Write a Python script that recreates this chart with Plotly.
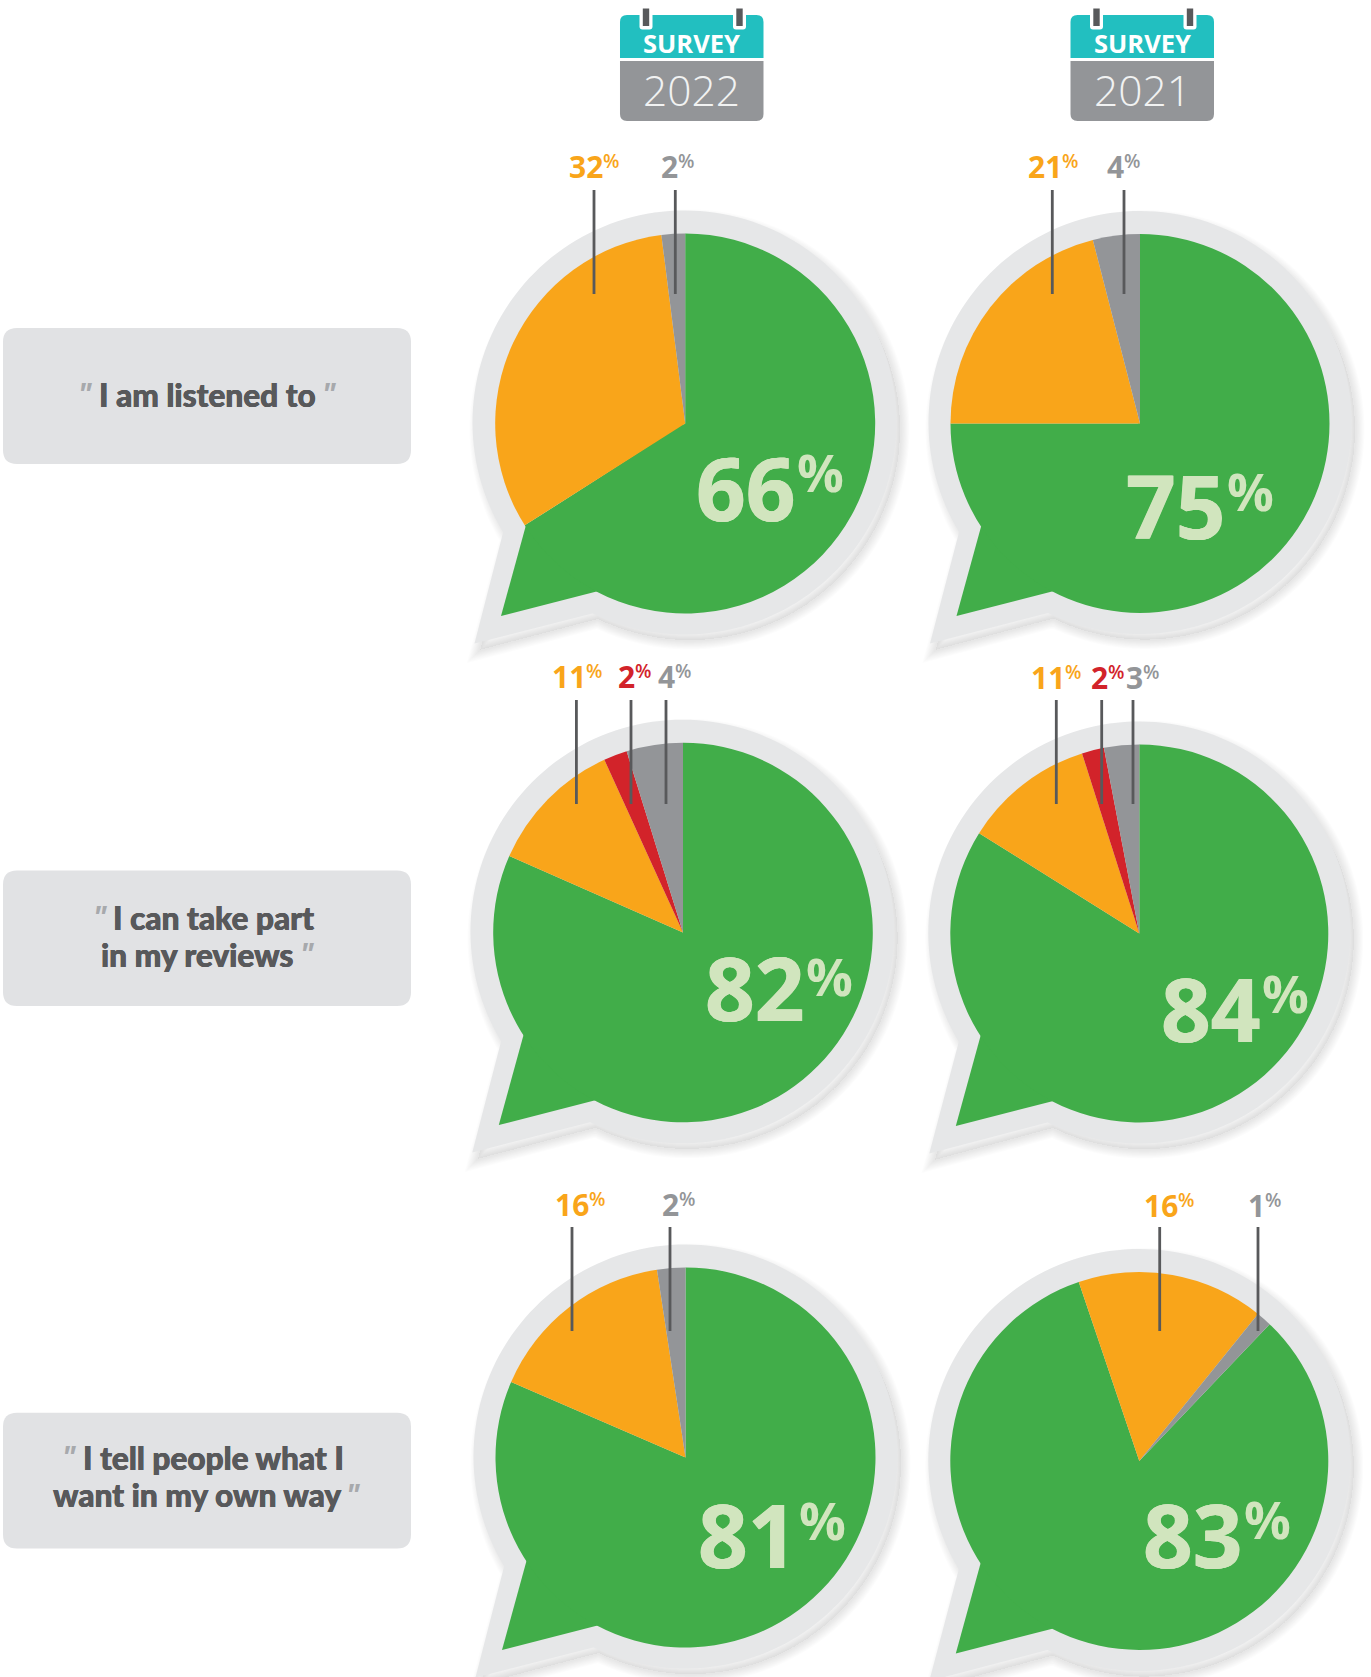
import numpy as np
import plotly.graph_objects as go

W, H = 1371, 1677

# ---------- data ----------
years = ["2022", "2021"]
questions = [
    ["I am listened to"],
    ["I can take part", "in my reviews"],
    ["I tell people what I", "want in my own way"],
]
# slices drawn clockwise: green, orange, (red), grey  (as read from the wedges)
listened_2022 = [66, 32, 2]
listened_2021 = [75, 21, 4]
reviews_2022 = [81.6, 11.6, 2.0, 4.8]
reviews_2021 = [83.9, 11.2, 1.9, 3.0]
own_way_2022 = [81.5, 16.1, 2.4]
own_way_2021 = [82.7, 16.0, 1.3]
# printed labels
lab_listened_2022 = ["66", "32", "2"]
lab_listened_2021 = ["75", "21", "4"]
lab_reviews_2022 = ["82", "11", "2", "4"]
lab_reviews_2021 = ["84", "11", "2", "3"]
lab_own_way_2022 = ["81", "16", "2"]
lab_own_way_2021 = ["83", "16", "1"]

GREEN, ORANGE, RED, GREY = "#41AD49", "#F9A51A", "#D2232A", "#939598"
RING, BOX, TEAL = "#E6E7E8", "#E1E2E4", "#22BFC0"
DARK, QUOTE, PALE = "#58595B", "#A7A9AC", "#D1E5BE"
FONT = "Open Sans"
BOXFONT = "Lato"

# ---------- layout of the six charts ----------
charts = [
    dict(v=listened_2022, t=lab_listened_2022, c=(684.5, 422.5), r=190, rot=0, dx=0.7,
         big=(796.5, 487, 471.5), labs=[(603, 594), (678, 675.3)], ly=(166, 190, 294)),
    dict(v=listened_2021, t=lab_listened_2021, c=(1140, 422.5), r=189.5, rot=0, dx=0,
         big=(1226.5, 505, 490), labs=[(1061.5, 1052.3), (1124, 1124)], ly=(166, 190, 294)),
    dict(v=reviews_2022, t=lab_reviews_2022, c=(682.3, 931.5), r=189.8, rot=0, dx=0.7,
         big=(806, 987, 975), labs=[(585.5, 576.4), (635, 631), (675.3, 666)], ly=(676, 700, 804)),
    dict(v=reviews_2021, t=lab_reviews_2021, c=(1139.3, 932.5), r=189, rot=0, dx=0,
         big=(1261.7, 1008, 992.6), labs=[(1065, 1056.3), (1108, 1101.7), (1142.5, 1133)], ly=(677, 700, 804)),
    dict(v=own_way_2022, t=lab_own_way_2022, c=(685.5, 1456.5), r=190, rot=0, dx=0,
         big=(798.8, 1534, 1519.6), labs=[(589, 572), (678.5, 670)], ly=(1204, 1227, 1331)),
    dict(v=own_way_2021, t=lab_own_way_2021, c=(1139.3, 1460), r=189, rot=43.6, dx=0,
         big=(1244, 1533.7, 1518), labs=[(1178, 1159.7), (1265, 1258)], ly=(1205, 1227, 1331)),
]


def fx(x):
    return x / W


def fy(y):
    return 1 - y / H


def path(points, close=True):
    s = "M" + " L".join(f"{fx(x):.5f},{fy(y):.5f}" for x, y in points)
    return s + (" Z" if close else "")


def bubble(cx, cy, r, a, tip, b):
    """circle from tail point b round to tail point a, then the tail tip"""
    a0 = np.arctan2(a[1], a[0])
    b0 = np.arctan2(b[1], b[0])
    if b0 > a0:
        b0 -= 2 * np.pi
    th = np.linspace(b0, a0 - 2 * np.pi, 160)
    pts = [(cx + r * np.cos(t), cy + r * np.sin(t)) for t in th]
    pts.append((cx + tip[0], cy + tip[1]))
    return path(pts)


shapes, ann = [], []


def text(x, y, s, size, color, xanchor="center", weight=700, family=FONT, shadow=None):
    font = dict(family=family, size=size, color=color, weight=weight)
    if shadow:
        font["shadow"] = shadow
    ann.append(dict(x=fx(x), y=fy(y), xref="paper", yref="paper", text=s, showarrow=False,
                    xanchor=xanchor, yanchor="middle", borderpad=0, borderwidth=0, font=font))


def rrect(x0, y0, x1, y1, rad, color, layer="below", top_round=True, bottom_round=True):
    k = rad
    rt = k if top_round else 0
    rb = k if bottom_round else 0
    p = (f"M{fx(x0 + rt):.5f},{fy(y0):.5f} L{fx(x1 - rt):.5f},{fy(y0):.5f} "
         f"Q{fx(x1):.5f},{fy(y0):.5f} {fx(x1):.5f},{fy(y0 + rt):.5f} "
         f"L{fx(x1):.5f},{fy(y1 - rb):.5f} Q{fx(x1):.5f},{fy(y1):.5f} {fx(x1 - rb):.5f},{fy(y1):.5f} "
         f"L{fx(x0 + rb):.5f},{fy(y1):.5f} Q{fx(x0):.5f},{fy(y1):.5f} {fx(x0):.5f},{fy(y1 - rb):.5f} "
         f"L{fx(x0):.5f},{fy(y0 + rt):.5f} Q{fx(x0):.5f},{fy(y0):.5f} {fx(x0 + rt):.5f},{fy(y0):.5f} Z")
    shapes.append(dict(type="path", path=p, xref="paper", yref="paper", layer=layer,
                       fillcolor=color, line=dict(width=0)))


# ---------- speech bubbles: shadow, ring, green tail ----------
TAIL_A, TAIL_TIP, TAIL_B = (-180, 109), (-210, 221), (-91.7, 190)
for ch in charts:
    cx, cy = ch["c"]
    for k in range(9):
        sh = bubble(cx + 5, cy + 7, ch["r"] + 21, TAIL_A, TAIL_TIP, TAIL_B)
        shapes.append(dict(type="path", path=sh, xref="paper", yref="paper", layer="below",
                           fillcolor="rgba(0,0,0,0.004)",
                           line=dict(width=2.2 * k + 0.5, color="rgba(0,0,0,0.012)")))
for ch in charts:
    cx, cy = ch["c"]
    outer = bubble(cx, cy, ch["r"] + 22, TAIL_A, TAIL_TIP, TAIL_B)
    shapes.append(dict(type="path", path=outer, xref="paper", yref="paper", layer="below",
                       fillcolor=RING, line=dict(width=0)))
    tail = [(cx, cy), (cx - 158.7, cy + 103.3), (cx - 183.5, cy + 193.6), (cx - 87, cy + 168.7)]
    shapes.append(dict(type="path", path=path(tail), xref="paper", yref="paper", layer="below",
                       fillcolor=GREEN, line=dict(width=0)))

# ---------- question boxes ----------
box_rows = [(328, 464), (870.5, 1006), (1412.7, 1548.5)]
# (text centre x, y) for each line; quote x for the opening and closing marks
line_pos = [[(207, 394.7)], [(213.9, 917.6), (197.3, 955)], [(213.3, 1457.7), (196.8, 1495)]]
quote_x = [(84.5, 329.4), (99.5, 307), (69, 353)]
for lines, (y0, y1), pos, (qo, qc) in zip(questions, box_rows, line_pos, quote_x):
    rrect(3, y0, 411, y1, 14, BOX)
    for ln, (tx, ty) in zip(lines, pos):
        text(tx, ty, ln, 31.6, DARK, family=BOXFONT, weight=900,
             shadow="0.35px 0 0 #58595B, -0.35px 0 0 #58595B")
    text(qo, pos[0][1] - 1, '<i>"</i>', 30, QUOTE, family=FONT)
    text(qc, pos[-1][1] - 1, '<i>"</i>', 30, QUOTE, family=FONT)

# ---------- calendars ----------
for yr, x0 in zip(years, (620, 1070.5)):
    x1 = x0 + 143.5
    rrect(x0, 15, x1, 58, 7, TEAL, top_round=True, bottom_round=False)
    rrect(x0, 61, x1, 121, 7, GREY, top_round=False, bottom_round=True)
    for off in (26, 119.5):
        rrect(x0 + off - 6.5, 5, x0 + off + 6.5, 29.5, 3, "#FFFFFF", layer="above")
        shapes.append(dict(type="rect", xref="paper", yref="paper", layer="above",
                           x0=fx(x0 + off - 3.2), x1=fx(x0 + off + 3.2),
                           y0=fy(8.5), y1=fy(26), fillcolor=DARK, line=dict(width=0)))
    text((x0 + x1) / 2, 43, "SURVEY", 25.5, "#FFFFFF")
    text((x0 + x1) / 2, 89, yr, 42.5, "#F1F2F2", weight=300)

# ---------- pies, labels, leader lines ----------
fig = go.Figure()
for ch in charts:
    cx, cy = ch["c"]
    r = ch["r"]
    px_, py_ = cx + ch["dx"], cy + 1
    colors = [GREEN, ORANGE, RED, GREY] if len(ch["v"]) == 4 else [GREEN, ORANGE, GREY]
    fig.add_trace(go.Pie(values=ch["v"], sort=False, direction="clockwise", rotation=ch["rot"],
                         marker=dict(colors=colors, line=dict(width=0)),
                         textinfo="none", hoverinfo="skip", showlegend=False,
                         domain=dict(x=[fx(px_ - r), fx(px_ + r)], y=[fy(py_ + r), fy(py_ - r)])))
    split, ybig, ypct = ch["big"]
    text(split - 1, ybig, ch["t"][0], 87, PALE, xanchor="right", weight=700,
         shadow="0.5px 0 0 #D1E5BE, -0.5px 0 0 #D1E5BE")
    text(split, ypct, "%", 52, PALE, xanchor="left", weight=700)
    ylab, y0, y1 = ch["ly"]
    for (sx, lx), lab, col in zip(ch["labs"], ch["t"][1:], colors[1:]):
        text(sx, ylab, lab, 30, col, xanchor="right")
        text(sx, ylab - 5.5, "%", 19, col, xanchor="left", weight=600)
        shapes.append(dict(type="line", xref="paper", yref="paper", layer="above",
                           x0=fx(lx), x1=fx(lx), y0=fy(y0), y1=fy(y1),
                           line=dict(color=DARK, width=2.8)))

fig.update_layout(width=W, height=H, margin=dict(l=0, r=0, t=0, b=0), autosize=False,
                  paper_bgcolor="#FFFFFF", plot_bgcolor="#FFFFFF",
                  shapes=shapes, annotations=ann, showlegend=False)

fig.write_html("out.html", post_script="document.body.style.margin='0';document.body.style.overflow='hidden';",
               config=dict(displayModeBar=False))
